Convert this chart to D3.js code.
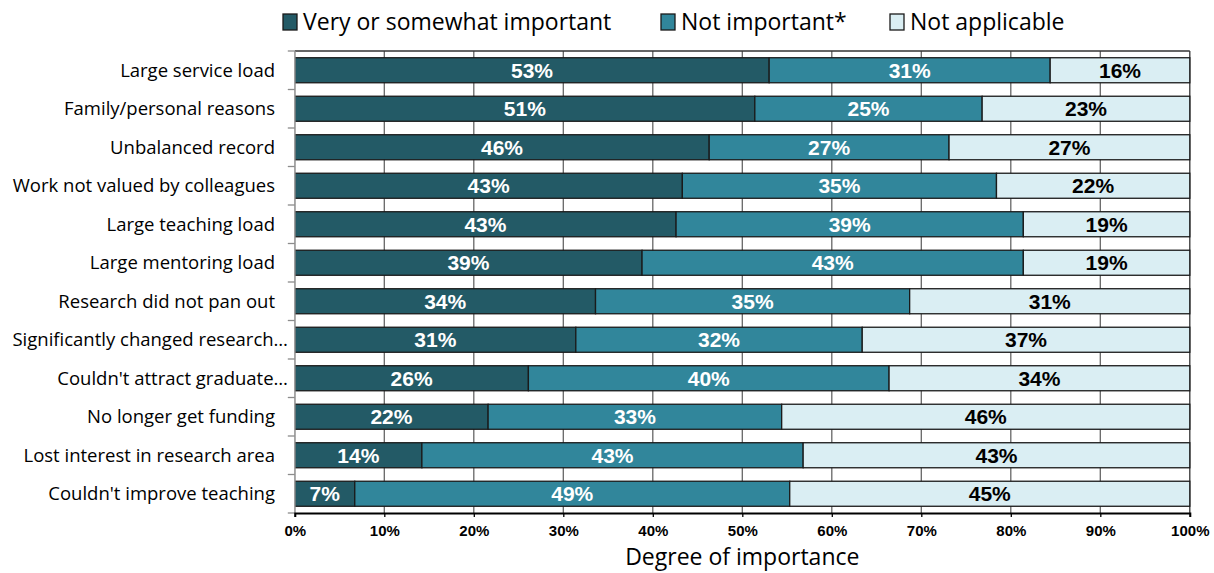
<!DOCTYPE html>
<html>
<head>
<meta charset="utf-8">
<script src="https://cdn.jsdelivr.net/npm/d3@7"></script>
<style>
  html, body { margin: 0; padding: 0; background: #fff; }
  svg { display: block; }
</style>
</head>
<body>
<svg id="chart" width="1214" height="573"></svg>
<script>
const categories = [
  "Large service load",
  "Family/personal reasons",
  "Unbalanced record",
  "Work not valued by colleagues",
  "Large teaching load",
  "Large mentoring load",
  "Research did not pan out",
  "Significantly changed research…",
  "Couldn't attract graduate…",
  "No longer get funding",
  "Lost interest in research area",
  "Couldn't improve teaching"
];
const seriesNames = ["Very or somewhat important", "Not important*", "Not applicable"];
const veryImportant = [53.0, 51.4, 46.3, 43.3, 42.6, 38.8, 33.6, 31.4, 26.1, 21.6, 14.2, 6.7];
const notImportant  = [31.4, 25.4, 26.8, 35.1, 38.8, 42.6, 35.1, 32.0, 40.3, 32.8, 42.6, 48.6];
const notApplicable = [15.6, 23.2, 26.9, 21.6, 18.6, 18.6, 31.3, 36.6, 33.6, 45.6, 43.2, 44.7];
const xTicks = [0, 10, 20, 30, 40, 50, 60, 70, 80, 90, 100];

const colors = ["#235a66", "#31869b", "#daeef3"];
const labelColors = ["#ffffff", "#ffffff", "#000000"];

const svg = d3.select("#chart");
const mLeft = 294.8, mRight = 1189.8, mTop = 51, mBottom = 513;

const x = d3.scaleLinear().domain([0, 100]).range([mLeft, mRight]);
const y = d3.scaleBand().domain(categories).range([mTop, mBottom]).paddingInner(0.35).paddingOuter(0.175);

const table = categories.map((c, i) => ({
  cat: c, s0: veryImportant[i], s1: notImportant[i], s2: notApplicable[i]
}));
const stacked = d3.stack().keys(["s0", "s1", "s2"])(table);

// gridlines
svg.append("g").selectAll("line").data(xTicks).join("line")
  .attr("x1", d => x(d)).attr("x2", d => x(d))
  .attr("y1", mTop).attr("y2", mBottom)
  .attr("stroke", d => d === 100 ? "#333" : "#666")
  .attr("stroke-width", 1.3);

// top border
svg.append("line").attr("x1", mLeft).attr("x2", mRight).attr("y1", mTop).attr("y2", mTop)
  .attr("stroke", "#333").attr("stroke-width", 1.5);

// bars
const groups = svg.append("g").selectAll("g").data(stacked).join("g")
  .attr("fill", (d, i) => colors[i]);
groups.selectAll("rect").data(d => d).join("rect")
  .attr("x", d => x(d[0]))
  .attr("y", d => y(d.data.cat))
  .attr("width", d => x(d[1]) - x(d[0]))
  .attr("height", y.bandwidth())
  .attr("stroke", "#1a1a1a")
  .attr("stroke-width", 1.3);

// data labels
stacked.forEach((s, si) => {
  svg.append("g").selectAll("text").data(s).join("text")
    .attr("x", d => (x(d[0]) + x(d[1])) / 2)
    .attr("y", d => y(d.data.cat) + y.bandwidth() / 2)
    .attr("dy", "0.36em")
    .attr("text-anchor", "middle")
    .attr("font-family", "Liberation Sans, Arial, sans-serif")
    .attr("font-weight", "bold")
    .attr("font-size", "21px")
    .attr("fill", labelColors[si])
    .text(d => Math.round(d[1] - d[0]) + "%");
});

// left axis
svg.append("line").attr("x1", mLeft).attr("x2", mLeft).attr("y1", mTop).attr("y2", mBottom)
  .attr("stroke", "#a6a6a6").attr("stroke-width", 1.5);
const boundaries = d3.range(categories.length + 1).map(i => mTop + i * y.step());
svg.append("g").selectAll("line").data(boundaries).join("line")
  .attr("x1", mLeft - 7).attr("x2", mLeft).attr("y1", d => d).attr("y2", d => d)
  .attr("stroke", "#8c8c8c").attr("stroke-width", 1.3);

// category labels
svg.append("g").selectAll("text").data(categories).join("text")
  .attr("x", d => d.endsWith("…") ? 288 : 275)
  .attr("y", d => y(d) + y.bandwidth() / 2)
  .attr("dy", "0.35em")
  .attr("text-anchor", "end")
  .attr("font-family", "Open Sans, sans-serif")
  .attr("font-size", "18.5px")
  .attr("fill", "#000")
  .text(d => d);

// bottom axis
const xAxis = d3.axisBottom(x).tickValues(xTicks).tickFormat(d => d + "%").tickSize(4).tickPadding(8);
const gx = svg.append("g").attr("transform", `translate(0,${mBottom})`).call(xAxis);
gx.select(".domain").attr("stroke", "#000").attr("stroke-width", 2);
gx.selectAll(".tick line").attr("stroke", "#000").attr("stroke-width", 1.3);
gx.selectAll(".tick text")
  .attr("font-family", "Liberation Sans, Arial, sans-serif")
  .attr("font-weight", "bold")
  .attr("font-size", "15px")
  .attr("fill", "#000");

// axis title
svg.append("text").attr("x", (mLeft + mRight) / 2).attr("y", 565)
  .attr("text-anchor", "middle")
  .attr("font-family", "Open Sans, sans-serif")
  .attr("font-size", "23px")
  .attr("fill", "#000")
  .text("Degree of importance");

// legend
const legendX = [283, 661, 890];
const lg = svg.append("g").selectAll("g").data(seriesNames).join("g")
  .attr("transform", (d, i) => `translate(${legendX[i]},14)`);
lg.append("rect").attr("width", 14).attr("height", 16)
  .attr("fill", (d, i) => colors[i]).attr("stroke", "#1a1a1a").attr("stroke-width", 1.3);
lg.append("text").attr("x", 20).attr("y", 8).attr("dy", "0.36em")
  .attr("font-family", "Open Sans, sans-serif")
  .attr("font-size", "23px")
  .attr("fill", "#000")
  .text(d => d);
</script>
</body>
</html>
